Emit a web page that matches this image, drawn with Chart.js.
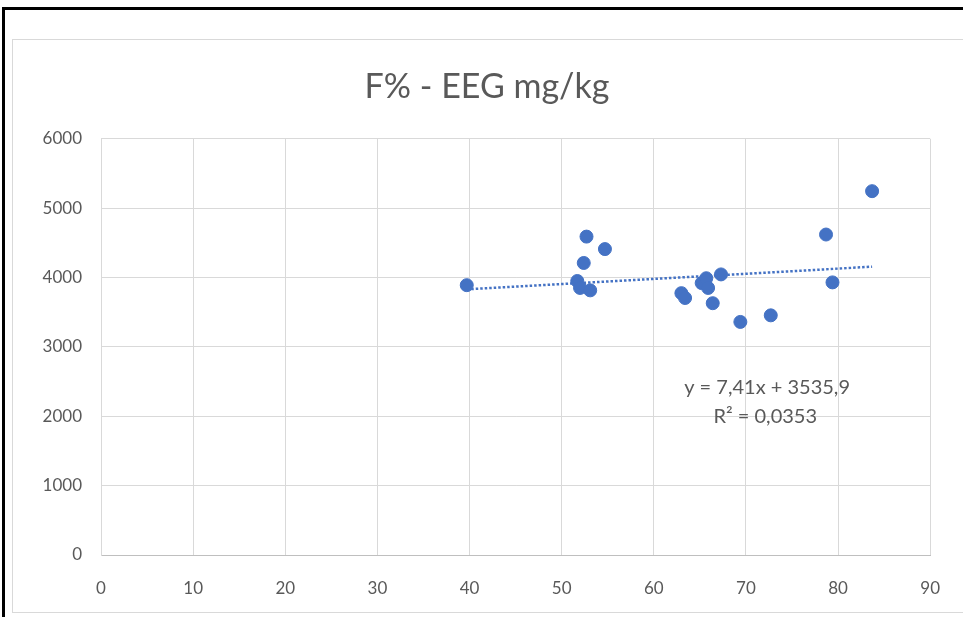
<!DOCTYPE html>
<html>
<head>
<meta charset="utf-8">
<script src="https://cdn.jsdelivr.net/npm/chart.js@4"></script>
<style>
  html, body { margin: 0; padding: 0; background: #fff; }
  #wrap { position: relative; width: 963px; height: 617px; }
  #marco { position: absolute; left: 2px; top: 7px; width: 961px; height: 610px;
           border-left: 3px solid #000; border-top: 3px solid #000; box-sizing: border-box; }
  #caja { position: absolute; left: 12px; top: 39px; width: 951px; height: 574px;
          border: 1px solid #d9d9d9; border-right: none; box-sizing: border-box; }
  canvas { position: absolute; left: 0; top: 0; }
</style>
</head>
<body>
<div id="wrap">
  <div id="marco"></div>
  <div id="caja"></div>
  <canvas id="grafica" width="963" height="617"></canvas>
</div>
<script>
// Datos
const fPorcentaje = [39.7, 51.7, 52.0, 52.4, 52.7, 53.1, 54.7, 63.0, 63.4, 65.2, 65.7, 65.9, 66.4, 67.3, 69.4, 72.7, 78.7, 79.4, 83.7];
const eegMgKg = [3890, 3950, 3850, 4210, 4590, 3815, 4410, 3775, 3705, 3920, 3990, 3850, 3630, 4045, 3360, 3455, 4620, 3930, 5245];

// Línea de tendencia (ecuación del gráfico)
const pendiente = 7.41;
const intercepto = 3535.9;
const textoEcuacion = "y = 7,41x + 3535,9";
const textoR2 = "R² = 0,0353";

const ticksX = [0, 10, 20, 30, 40, 50, 60, 70, 80, 90];
const ticksY = [0, 1000, 2000, 3000, 4000, 5000, 6000];

const puntos = fPorcentaje.map((x, i) => ({ x: x, y: eegMgKg[i] }));
const xMin = Math.min(...fPorcentaje);
const xMax = Math.max(...fPorcentaje);
const tendencia = [
  { x: xMin, y: pendiente * xMin + intercepto },
  { x: xMax, y: pendiente * xMax + intercepto }
];

const gris = "#595959";
const fuente = "Lato, 'Open Sans', sans-serif";

/* ETIQUETA DE LA ECUACIÓN */
const etiquetaEcuacion = {
  id: "etiquetaEcuacion",
  afterDatasetsDraw(chart) {
    const c = chart.ctx;
    const sx = chart.scales.x;
    const sy = chart.scales.y;
    c.save();
    c.fillStyle = gris;
    c.font = "20px " + fuente;
    c.textAlign = "center";
    c.textBaseline = "middle";
    c.fillText(textoEcuacion, sx.getPixelForValue(72.3), sy.getPixelForValue(2410));
    c.fillText(textoR2, sx.getPixelForValue(72.1), sy.getPixelForValue(1990));
    c.restore();
  }
};

const ctx = document.getElementById("grafica");

new Chart(ctx, {
  type: "scatter",
  data: {
    datasets: [
      {
        label: "EEG",
        data: puntos,
        backgroundColor: "#4472C4",
        borderColor: "#4472C4",
        pointRadius: 6.5,
        pointHoverRadius: 6.5,
        order: 1
      },
      {
        label: "Tendencia",
        type: "line",
        data: tendencia,
        borderColor: "#4472C4",
        borderWidth: 2.5,
        borderDash: [2.5, 2],
        pointRadius: 0,
        fill: false,
        order: 2
      }
    ]
  },
  options: {
    responsive: false,
    animation: false,
    layout: { padding: { left: 41, right: 30, top: 0, bottom: 0 } },
    plugins: {
      legend: { display: false },
      tooltip: { enabled: false },
      title: {
        display: true,
        text: "F% - EEG mg/kg",
        color: gris,
        font: { family: fuente, size: 34, weight: "normal" },
        padding: { top: 67, bottom: 31 }
      }
    },
    scales: {
      x: {
        type: "linear",
        min: 0,
        max: 90,
        afterBuildTicks: s => { s.ticks = ticksX.map(v => ({ value: v })); },
        afterFit: s => { s.height = 62; },
        grid: { color: "#d9d9d9", drawTicks: false },
        border: { color: "#bfbfbf" },
        ticks: { color: gris, padding: 23, font: { family: fuente, size: 17 } }
      },
      y: {
        type: "linear",
        min: 0,
        max: 6000,
        afterBuildTicks: s => { s.ticks = ticksY.map(v => ({ value: v })); },
        afterFit: s => { s.width = 60; },
        grid: { color: "#d9d9d9", drawTicks: false },
        border: { color: "#d9d9d9" },
        ticks: {
          color: gris,
          padding: 19,
          font: { family: fuente, size: 17 },
          callback: v => String(v)
        }
      }
    }
  },
  plugins: [etiquetaEcuacion]
});
</script>
</body>
</html>
